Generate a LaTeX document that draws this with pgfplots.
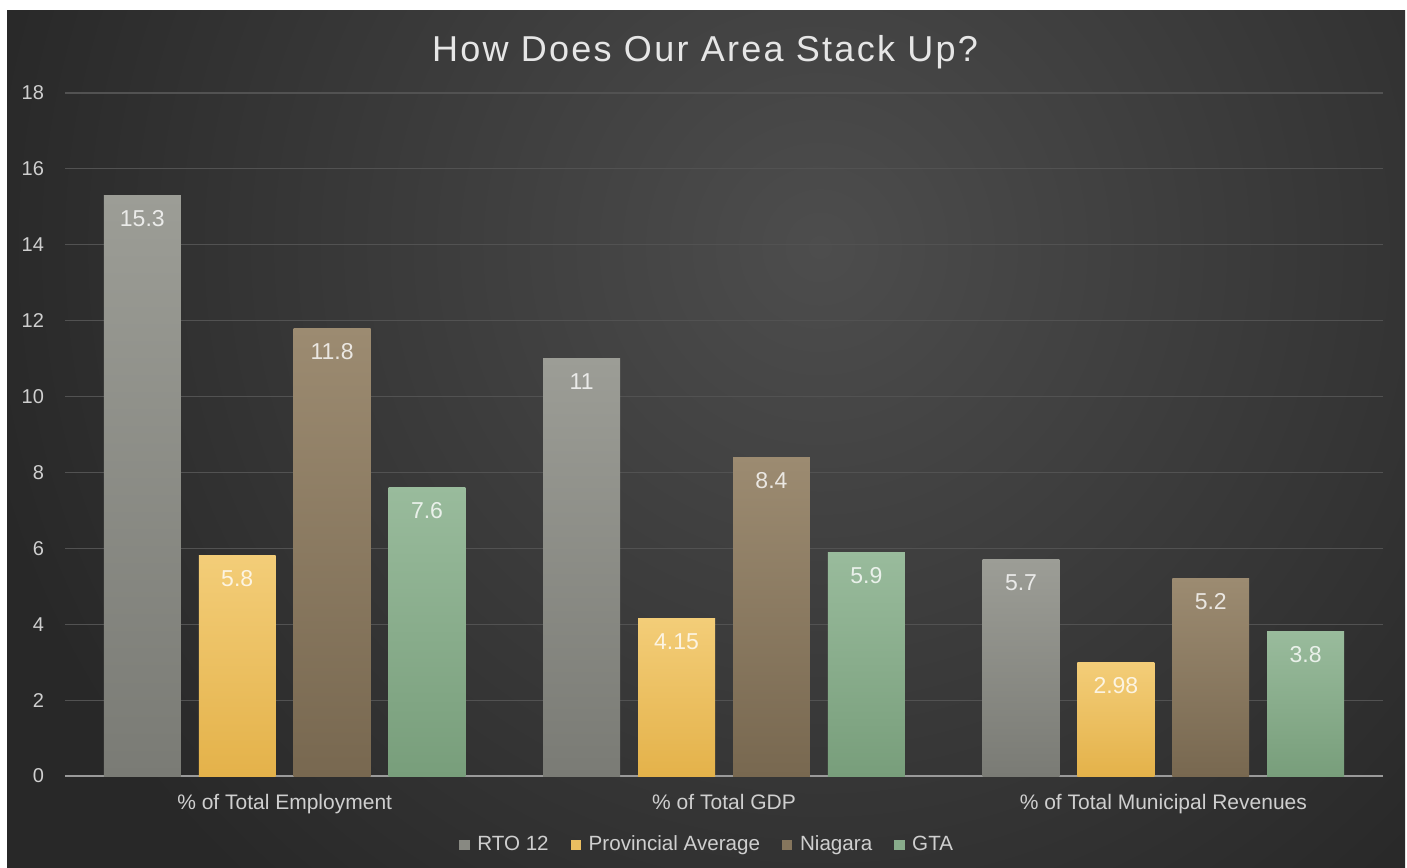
\documentclass[border=0pt]{standalone}
\usepackage{pgfplots}
\pgfplotsset{compat=1.18}
\usepackage{fontspec}
\setmainfont{Liberation Sans}
\definecolor{bgout}{HTML}{282828}
\definecolor{bgin}{HTML}{4D4D4D}
\definecolor{gridc}{HTML}{525252}
\definecolor{basec}{HTML}{9A9A9A}
\definecolor{txtc}{HTML}{CFCFCF}
\definecolor{titlec}{HTML}{E6E6E6}
\definecolor{rtoT}{HTML}{9C9D96}
\definecolor{rtoB}{HTML}{7A7B75}
\definecolor{prvT}{HTML}{F3CD78}
\definecolor{prvB}{HTML}{E4B24A}
\definecolor{niaT}{HTML}{9C8B71}
\definecolor{niaB}{HTML}{786850}
\definecolor{gtaT}{HTML}{99BB9C}
\definecolor{gtaB}{HTML}{789E7B}
\pgfplotsset{
  rto/.style={draw=none, top color=rtoT, bottom color=rtoB, bar shift=-0.324, forget plot},
  prv/.style={draw=none, top color=prvT, bottom color=prvB, bar shift=-0.108, forget plot},
  nia/.style={draw=none, top color=niaT, bottom color=niaB, bar shift=0.108, forget plot},
  gta/.style={draw=none, top color=gtaT, bottom color=gtaB, bar shift=0.324, forget plot},
}
\begin{document}
\begin{tikzpicture}
\fill[white] (0pt,0pt) rectangle (703.5pt,433.5pt);
\begin{scope}
\clip (3.5pt,-3pt) rectangle (702.5pt,428pt);
\fill[bgout] (3.5pt,-3pt) rectangle (702.5pt,428pt);
\shade[inner color=bgin, outer color=bgout] (410pt,310pt) circle (430pt);
\end{scope}
\node[text=titlec, font=\fontsize{18}{21}\selectfont\addfontfeatures{LetterSpace=6.3}] at (352.5pt,407.5pt) {How Does Our Area Stack Up?};
\begin{axis}[
  at={(32.5pt,45.5pt)}, anchor=south west,
  scale only axis, width=659pt, height=341.5pt,
  xmin=-0.5, xmax=2.5, ymin=0, ymax=18,
  ytick={0,2,...,18},
  xtick={0,1,2},
  xticklabels={\% of Total Employment, \% of Total GDP, \% of Total Municipal Revenues},
  major tick length=0pt,
  axis line style={draw=none},
  ymajorgrids, grid style={gridc, line width=0.6pt},
  extra y ticks={0}, extra y tick labels={},
  extra y tick style={grid style={basec, line width=1pt}},
  /pgf/number format/assume math mode=true,
  ticklabel style={text=txtc},
  yticklabel style={xshift=-7pt, font=\fontsize{10}{12}\selectfont},
  xticklabel style={yshift=-5.5pt, font=\fontsize{10.5}{12}\selectfont},
  ybar, bar width=0.175,
  nodes near coords,
  every node near coord/.append style={anchor=center, yshift=-11.5pt, text=white, text opacity=0.8, font=\fontsize{11.5}{13}\selectfont},
  legend image code/.code={\fill[#1, draw=none] (0pt,-2.6pt) rectangle (5.2pt,2.6pt); \path[draw=none, fill=none] (0pt,0pt) -- (7pt,0pt);},
  legend style={at={(0.488,-0.101)}, anchor=center, legend columns=-1, draw=none, fill=none, text=txtc, font=\fontsize{10.3}{12}\selectfont, /tikz/every even column/.append style={column sep=9pt}},
]
\addplot[rto] coordinates {(0,15.3)};
\addplot[rto] coordinates {(1,11)};
\addplot[rto] coordinates {(2,5.7)};
\addplot[prv] coordinates {(0,5.8)};
\addplot[prv] coordinates {(1,4.15)};
\addplot[prv] coordinates {(2,2.98)};
\addplot[nia] coordinates {(0,11.8)};
\addplot[nia] coordinates {(1,8.4)};
\addplot[nia] coordinates {(2,5.2)};
\addplot[gta] coordinates {(0,7.6)};
\addplot[gta] coordinates {(1,5.9)};
\addplot[gta] coordinates {(2,3.8)};
\addlegendimage{fill=rtoB!60!rtoT}\addlegendentry{RTO 12}
\addlegendimage{fill=prvB!50!prvT}\addlegendentry{Provincial Average}
\addlegendimage{fill=niaB!60!niaT}\addlegendentry{Niagara}
\addlegendimage{fill=gtaB!50!gtaT}\addlegendentry{GTA}
\end{axis}
\pgfresetboundingbox
\path[use as bounding box] (0pt,0pt) rectangle (703.5pt,433.5pt);
\end{tikzpicture}
\end{document}
